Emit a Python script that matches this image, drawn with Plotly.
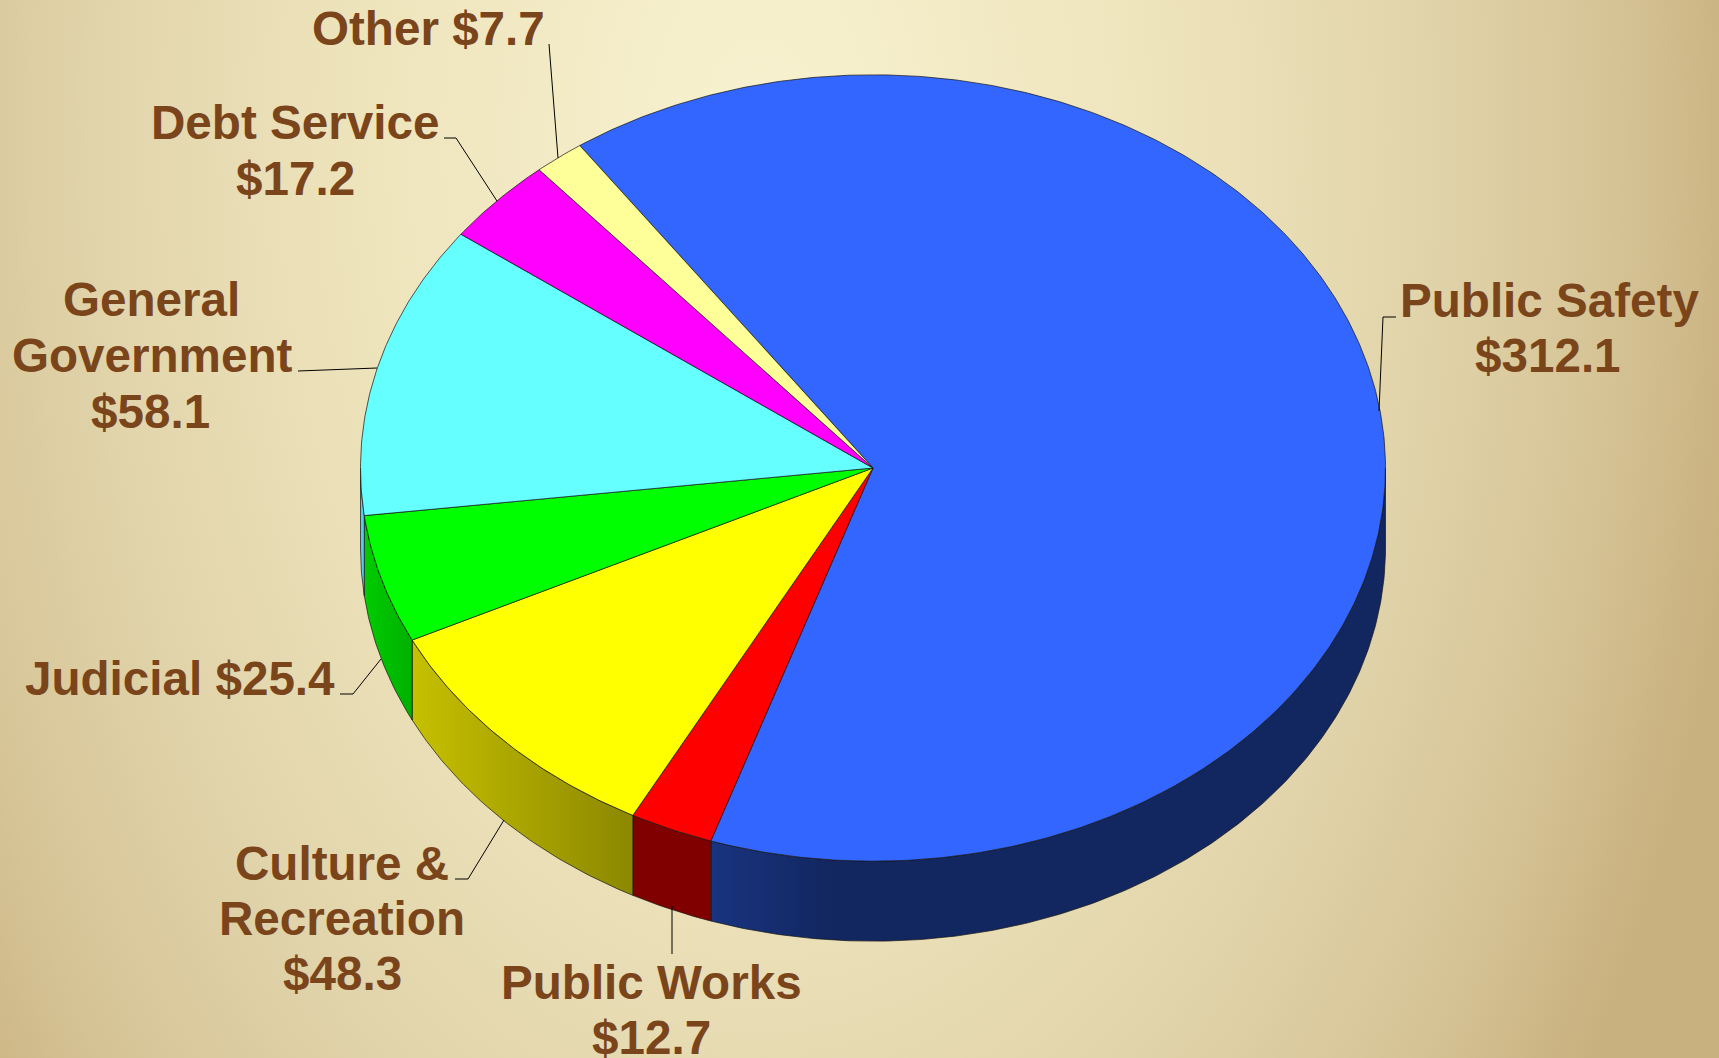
import math
import urllib.parse
import plotly.graph_objects as go

# ---- data (US$ millions) ----
categories = ["Public Safety", "Public Works", "Culture & Recreation", "Judicial",
              "General Government", "Debt Service", "Other"]
values = [312.1, 12.7, 48.3, 25.4, 58.1, 17.2, 7.7]
top_colors = ["#3366FF", "#FF0000", "#FFFF00", "#00FF00", "#66FFFF", "#FF00FF", "#FFFF99"]
wall_scales = [
    [[0, "#193480"], [0.18, "#12265F"], [1, "#12265F"]],
    [[0, "#800000"], [1, "#800000"]],
    [[0, "#C6C000"], [1, "#8C8800"]],
    [[0, "#00CC00"], [1, "#00B000"]],
    [[0, "#55CCEE"], [1, "#55CCEE"]],
    [[0, "#800080"], [1, "#800080"]],
    [[0, "#808040"], [1, "#808040"]],
]

# (text, centre x, centre y) per label line
label_lines = [
    ("Public Safety", 1549, 300), ("$312.1", 1548, 355),
    ("Other $7.7", 428, 28),
    ("Debt Service", 295, 122), ("$17.2", 295, 178),
    ("General", 151, 299), ("Government", 152, 355), ("$58.1", 150, 411),
    ("Judicial $25.4", 180, 678),
    ("Culture &", 342, 863), ("Recreation", 342, 918), ("$48.3", 342, 973),
    ("Public Works", 651, 982), ("$12.7", 651, 1037),
]
leaders = [
    [(1396, 317), (1383, 317), (1379, 411)],
    [(298, 371), (377, 368)],
    [(549, 44), (558, 158)],
    [(444, 138), (456, 138), (497, 201)],
    [(340, 694), (353, 694), (381, 659)],
    [(455, 879), (468, 879), (504, 820)],
    [(672, 906), (672, 954)],
]

# ---- geometry of the tilted pie ----
W, H = 1719, 1058
CX, CY, RX, RY, DEPTH = 873, 468, 512.5, 393.2, 80
START_DEG = 325.1  # clockwise from twelve o'clock
EDGE = "rgba(20,20,20,0.7)"


def pt(deg, dy=0):
    t = math.radians(deg)
    return CX + RX * math.sin(t), CY - RY * math.cos(t) + dy


def arc(a, b):
    n = max(2, int(abs(b - a) * 2))
    return [a + (b - a) * i / n for i in range(n + 1)]


total = sum(values)
fig = go.Figure()
angle = START_DEG
spans = []
for v in values:
    spans.append((angle, angle + v / total * 360))
    angle += v / total * 360

# side walls: visible between 90 and 270 degrees (clockwise from the top)
for (a, b), scale in zip(spans, wall_scales):
    for shift in (0, 360):
        lo, hi = max(a - shift, 90), min(b - shift, 270)
        if lo >= hi:
            continue
        top = [pt(d) for d in arc(lo, hi)]
        bottom = [pt(d, DEPTH) for d in arc(hi, lo)]
        ring = top + bottom + top[:1]
        xs = [p[0] for p in ring]
        ys = [p[1] for p in ring]
        fig.add_trace(go.Scatter(
            x=xs, y=ys, mode="lines", fill="toself", hoverinfo="skip",
            line=dict(color=EDGE, width=1),
            fillgradient=dict(type="horizontal", start=min(xs), stop=max(xs),
                              colorscale=scale),
        ))

# top faces
for name, (a, b), color in zip(categories, spans, top_colors):
    ring = [(CX, CY)] + [pt(d) for d in arc(a, b)] + [(CX, CY)]
    fig.add_trace(go.Scatter(
        x=[p[0] for p in ring], y=[p[1] for p in ring], name=name,
        mode="lines", fill="toself", fillcolor=color,
        line=dict(color=EDGE, width=1),
    ))

for path in leaders:
    d = "M " + " L ".join(f"{x} {y}" for x, y in path)
    fig.add_shape(type="path", path=d, xref="x", yref="y",
                  line=dict(color="#000000", width=1))

for text, x, y in label_lines:
    fig.add_annotation(x=x, y=y, text=f"<b>{text}</b>", showarrow=False,
                       xanchor="center", yanchor="middle",
                       font=dict(family="Liberation Sans", size=47.6, color="#7B451B"))

svg = (f'<svg xmlns="http://www.w3.org/2000/svg" width="{W}" height="{H}" viewBox="0 0 {W} {H}">'
       '<defs><radialGradient id="g" gradientUnits="userSpaceOnUse" cx="0" cy="0" r="1" '
       'gradientTransform="translate(760 140) scale(1000 1650)">'
       '<stop offset="0" stop-color="#F8F2D0"/><stop offset="0.4" stop-color="#EEE4BC"/>'
       '<stop offset="0.65" stop-color="#E2D5AC"/><stop offset="0.85" stop-color="#D6C496"/>'
       '<stop offset="1" stop-color="#C9B07F"/>'
       f'</radialGradient></defs><rect width="{W}" height="{H}" fill="url(#g)"/></svg>')

fig.update_layout(
    width=W, height=H, margin=dict(l=0, r=0, t=0, b=0), showlegend=False,
    paper_bgcolor="#E6DAB0", plot_bgcolor="rgba(0,0,0,0)",
    xaxis=dict(range=[0, W], visible=False, fixedrange=True),
    yaxis=dict(range=[H, 0], visible=False, fixedrange=True),
    images=[dict(source="data:image/svg+xml," + urllib.parse.quote(svg), xref="paper", yref="paper",
                 x=0, y=1, sizex=1, sizey=1, xanchor="left", yanchor="top",
                 sizing="stretch", layer="below")],
)
fig.write_html("out.html", post_script="document.body.style.margin='0';",
               config=dict(displayModeBar=False))
